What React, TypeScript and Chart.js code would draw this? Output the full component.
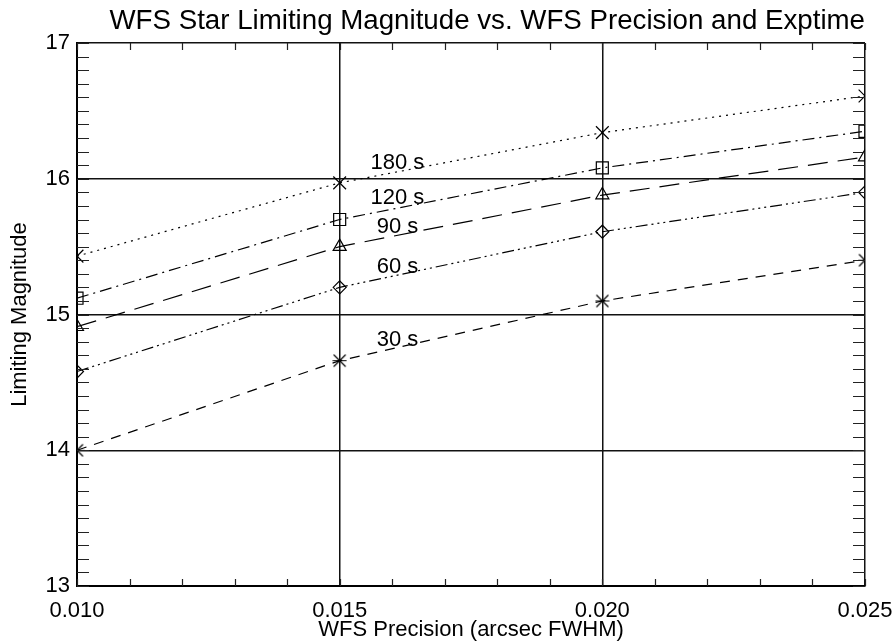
import React, { useEffect, useRef } from 'react';
import { Chart, registerables } from 'chart.js';

Chart.register(...registerables);

const FONT = '"Liberation Sans", Arial, Helvetica, sans-serif';

const precision = [0.010, 0.015, 0.020, 0.025];
const seriesLabels = ['180 s', '120 s', '90 s', '60 s', '30 s'];
const mag180 = [15.43, 15.97, 16.34, 16.61];
const mag120 = [15.12, 15.70, 16.08, 16.35];
const mag90 = [14.91, 15.50, 15.88, 16.16];
const mag60 = [14.58, 15.20, 15.61, 15.90];
const mag30 = [14.00, 14.66, 15.10, 15.40];
const xTickValues = [0.010, 0.015, 0.020, 0.025];
const yTickValues = [13, 14, 15, 16, 17];
const labelAnchorX = 0.0161;
const labelAnchorY = [16.12, 15.86, 15.645, 15.35, 14.81];

function makeAsterisk(): HTMLCanvasElement {
  const c = document.createElement('canvas');
  c.width = 15;
  c.height = 15;
  const g = c.getContext('2d')!;
  g.strokeStyle = '#000';
  g.lineWidth = 1.2;
  g.beginPath();
  g.moveTo(1.5, 1.5); g.lineTo(13.5, 13.5);
  g.moveTo(13.5, 1.5); g.lineTo(1.5, 13.5);
  g.moveTo(0.5, 7.5); g.lineTo(14.5, 7.5);
  g.stroke();
  return c;
}

const decorPlugin = {
  id: 'decor',
  afterDatasetsDraw(chart: any) {
    const { ctx, chartArea: a, scales } = chart;
    const x = scales.x;
    const y = scales.y;
    ctx.save();
    ctx.strokeStyle = '#222';
    ctx.lineWidth = 1.2;
    ctx.beginPath();
    for (let i = 0; i <= 15; i++) {
      const px = Math.round(x.getPixelForValue(0.010 + i * 0.001)) + 0.5;
      ctx.moveTo(px, a.bottom); ctx.lineTo(px, a.bottom - 7);
      ctx.moveTo(px, a.top); ctx.lineTo(px, a.top + 7);
    }
    for (let i = 0; i <= 40; i++) {
      const py = Math.round(y.getPixelForValue(13 + i * 0.1)) + 0.5;
      ctx.moveTo(a.left, py); ctx.lineTo(a.left + 12, py);
      ctx.moveTo(a.right, py); ctx.lineTo(a.right - 12, py);
    }
    ctx.stroke();
    ctx.fillStyle = '#000';
    ctx.font = `22px ${FONT}`;
    ctx.textAlign = 'center';
    ctx.textBaseline = 'middle';
    seriesLabels.forEach((t, i) => {
      ctx.fillText(t, x.getPixelForValue(labelAnchorX), y.getPixelForValue(labelAnchorY[i]));
    });
    ctx.restore();
  },
};

export default function App() {
  const ref = useRef<HTMLCanvasElement | null>(null);

  useEffect(() => {
    document.body.style.margin = '0';
    const asterisk = makeAsterisk();
    const pts = (arr: number[]) => precision.map((x, i) => ({ x, y: arr[i] }));
    const base = {
      borderColor: '#000',
      borderWidth: 1.2,
      pointBorderColor: '#000',
      pointBackgroundColor: 'rgba(0,0,0,0)',
      pointBorderWidth: 1.2,
      fill: false,
      tension: 0,
      clip: 0,
    };
    const chart = new Chart(ref.current!, {
      type: 'line',
      data: {
        datasets: [
          { ...base, label: seriesLabels[0], data: pts(mag180), borderDash: [2, 5], pointStyle: 'crossRot', pointRadius: 9 },
          { ...base, label: seriesLabels[1], data: pts(mag120), borderDash: [12, 5, 2, 5], pointStyle: 'rect', pointRadius: 8.5 },
          { ...base, label: seriesLabels[2], data: pts(mag90), borderDash: [20, 10], pointStyle: 'triangle', pointRadius: 7.5 },
          { ...base, label: seriesLabels[3], data: pts(mag60), borderDash: [12, 4, 2, 4, 2, 4, 2, 4], pointStyle: 'rectRot', pointRadius: 6.5 },
          { ...base, label: seriesLabels[4], data: pts(mag30), borderDash: [10, 8], pointStyle: asterisk as any, pointRadius: 7 },
        ] as any,
      },
      options: {
        animation: false,
        responsive: true,
        maintainAspectRatio: false,
        devicePixelRatio: 1,
        events: [],
        layout: { padding: { left: 0, right: 29, top: 0, bottom: 0 } },
        plugins: {
          legend: { display: false },
          tooltip: { enabled: false },
          title: {
            display: true,
            fullSize: false,
            align: 'end',
            text: 'WFS Star Limiting Magnitude vs. WFS Precision and Exptime',
            color: '#000',
            font: { size: 27.7, weight: 'normal', family: FONT },
            padding: { top: 5, bottom: 4.8 },
          },
        },
        scales: {
          x: {
            type: 'linear',
            min: 0.01,
            max: 0.025,
            afterBuildTicks: (s: any) => { s.ticks = xTickValues.map((v) => ({ value: v })); },
            afterFit: (s: any) => { s.height = 57; s.paddingLeft = 0; s.paddingRight = 0; },
            ticks: {
              callback: (v: any) => Number(v).toFixed(3),
              color: '#000',
              font: { size: 22, family: FONT },
              padding: 12,
              maxRotation: 0,
              autoSkip: false,
            },
            grid: { drawTicks: false, color: '#111', lineWidth: 1.5 },
            border: { color: '#000', width: 2 },
            title: {
              display: true,
              text: 'WFS Precision (arcsec FWHM)',
              color: '#000',
              font: { size: 22, family: FONT },
              padding: { top: 0, bottom: 0 },
            },
          },
          y: {
            type: 'linear',
            min: 13,
            max: 17,
            afterBuildTicks: (s: any) => { s.ticks = yTickValues.map((v) => ({ value: v })); },
            afterFit: (s: any) => { s.width = 77; },
            ticks: {
              callback: (v: any) => String(v),
              color: '#000',
              font: { size: 22, family: FONT },
              padding: 7,
            },
            grid: { drawTicks: false, color: '#111', lineWidth: 1.5 },
            border: { color: '#000', width: 2 },
            title: {
              display: true,
              text: 'Limiting Magnitude',
              color: '#000',
              font: { size: 22, family: FONT },
              padding: { top: 7, bottom: 0 },
            },
          },
        },
      } as any,
      plugins: [decorPlugin],
    });
    return () => chart.destroy();
  }, []);

  return (
    <div style={{ position: 'relative', width: 894, height: 643, background: '#fff' }}>
      <canvas ref={ref} />
    </div>
  );
}
